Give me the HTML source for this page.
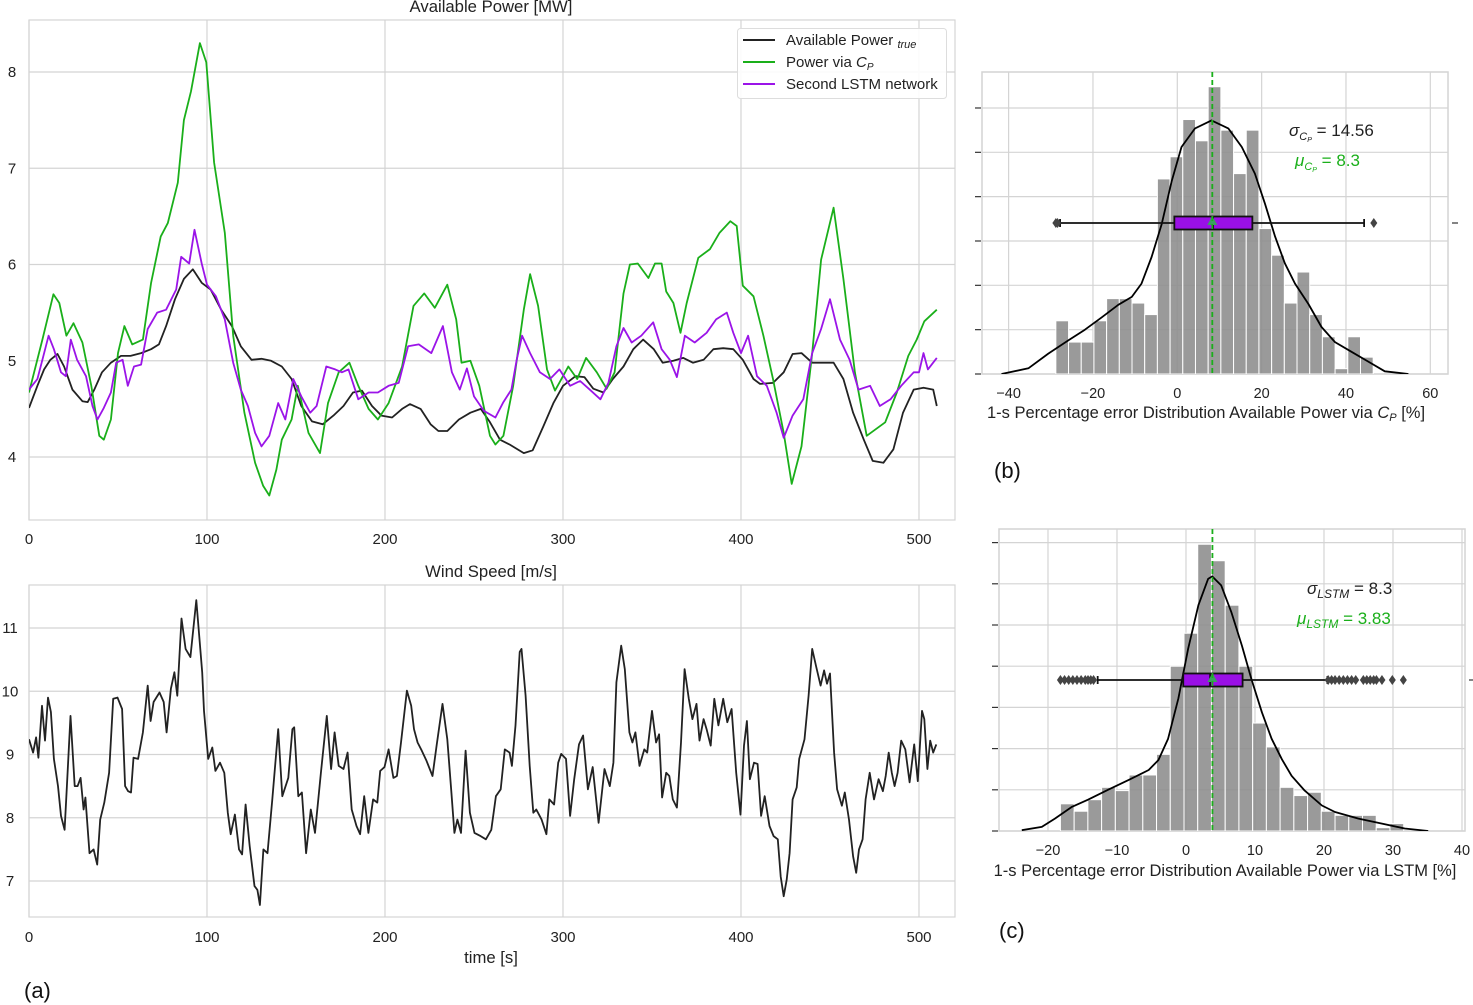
<!DOCTYPE html>
<html><head><meta charset="utf-8"><style>
html,body{margin:0;padding:0;background:#fff;}
svg{display:block;font-family:"Liberation Sans",sans-serif;}
</style></head><body>
<svg id="fig" width="1473" height="1005" viewBox="0 0 1473 1005" xmlns="http://www.w3.org/2000/svg">
<defs>
<clipPath id="clipA"><rect x="29" y="20" width="926" height="500"/></clipPath>
<clipPath id="clipW"><rect x="29" y="585" width="926" height="332"/></clipPath>
<clipPath id="clipB"><rect x="982" y="72" width="466" height="302"/></clipPath>
<clipPath id="clipC"><rect x="999" y="529" width="466" height="302"/></clipPath>
</defs>
<g id="power-panel"></g>
<g id="wind-panel"></g>
<g id="hist-b"></g>
<g id="hist-c"></g>
<text x="491" y="12" font-size="16.7" text-anchor="middle" fill="#222">Available Power [MW]</text>
<text x="491" y="577" font-size="16.7" text-anchor="middle" fill="#222">Wind Speed [m/s]</text>
<text x="491" y="963" font-size="16.7" text-anchor="middle" fill="#222">time [s]</text>
<text x="24" y="998" font-size="22" fill="#111">(a)</text>
<text x="994" y="478" font-size="22" fill="#111">(b)</text>
<text x="999" y="938" font-size="22" fill="#111">(c)</text>
<text x="1206" y="418" font-size="16.5" text-anchor="middle" fill="#222">1-s Percentage error Distribution Available Power via <tspan font-style="italic">C</tspan><tspan font-style="italic" font-size="11" dy="3">P</tspan><tspan dy="-3"> [%]</tspan></text>
<text x="1225" y="876" font-size="16.5" text-anchor="middle" fill="#222">1-s Percentage error Distribution Available Power via LSTM [%]</text>
<text x="1289" y="136" font-size="17" fill="#222"><tspan font-style="italic">σ</tspan><tspan font-style="italic" font-size="11" dy="4">C</tspan><tspan font-style="italic" font-size="7" dy="2">P</tspan><tspan dy="-6"> = 14.56</tspan></text>
<text x="1295" y="166" font-size="17" fill="#1aaf1a"><tspan font-style="italic">μ</tspan><tspan font-style="italic" font-size="11" dy="4">C</tspan><tspan font-style="italic" font-size="7" dy="2">P</tspan><tspan dy="-6"> = 8.3</tspan></text>
<text x="1307" y="594" font-size="17" fill="#222"><tspan font-style="italic">σ</tspan><tspan font-style="italic" font-size="12" dy="4">LSTM</tspan><tspan dy="-4"> = 8.3</tspan></text>
<text x="1297" y="624" font-size="17" fill="#1aaf1a"><tspan font-style="italic">μ</tspan><tspan font-style="italic" font-size="12" dy="4">LSTM</tspan><tspan dy="-4"> = 3.83</tspan></text>
<g>
<rect x="737.5" y="28.5" width="209" height="70" rx="3" fill="#fff" fill-opacity="0.9" stroke="#ddd"/>
<line x1="743" y1="40" x2="775" y2="40" stroke="#222" stroke-width="2"/>
<text x="786" y="45" font-size="15" fill="#222">Available Power <tspan font-style="italic" font-size="11" dy="3">true</tspan></text>
<line x1="743" y1="62" x2="775" y2="62" stroke="#1aaf1a" stroke-width="2"/>
<text x="786" y="67" font-size="15" fill="#222">Power via <tspan font-style="italic">C</tspan><tspan font-style="italic" font-size="10" dy="3">P</tspan></text>
<line x1="743" y1="84" x2="775" y2="84" stroke="#9b14e8" stroke-width="2"/>
<text x="786" y="89" font-size="15" fill="#222">Second LSTM network</text>
</g>
</svg>
<script>
// ---------- data: power panel ----------
const tTrue=[0,4.7,8.5,12,16,19.7,24.4,30,33,36.7,41,46,51.7,57,63,68.6,73,77,82,87,92,97,102,108,114,119,125,130.6,136,142,147.5,153,159,165,171,176.7,182,187,192.7,198,204,209.6,214,220,225.6,230,235,241.5,248,253.8,259,264.6,270,278,283,289,294.6,300,307,312,317,322.7,328,334,339.5,345,351,356,362,367.6,373,379,384.5,390,395.7,401,407,410.7,418,424,429,434,440,446,452,457.5,463,469,474,480,485.6,491,497,502.5,508,510];
const pTrue=[4.51,4.74,4.91,5.01,5.07,4.94,4.7,4.58,4.57,4.7,4.88,4.98,5.05,5.05,5.08,5.12,5.17,5.36,5.64,5.85,5.95,5.81,5.74,5.53,5.36,5.15,5.01,5.02,5.0,4.94,4.81,4.53,4.37,4.34,4.43,4.53,4.67,4.69,4.53,4.43,4.41,4.5,4.55,4.5,4.34,4.27,4.27,4.39,4.46,4.5,4.36,4.18,4.13,4.04,4.07,4.32,4.56,4.74,4.84,4.83,4.71,4.67,4.81,4.94,5.12,5.22,5.12,4.98,5.0,5.03,4.98,5.01,5.12,5.13,5.12,5.01,4.81,4.76,4.77,4.88,5.07,5.08,4.98,4.98,4.98,4.81,4.46,4.18,3.96,3.94,4.08,4.46,4.7,4.72,4.7,4.53];
const tCp=[0,7.5,13.7,17,21,25,30,35,39.5,42,46,50,53.6,58,64,68.6,74,78,83.6,87,91,96,99.6,104,110,114.7,121,127,131.6,135,139,142,147.5,151,157,163.5,168,174,180,185,190.8,196,202,209.6,216,222,228,235,240,243,248,253,259,262,266.5,272,278,281.5,286,291,295.5,300,303,308,313,319,324.5,329,334,337.6,342,348,351.7,355.4,358,362,366,369.5,376,382.6,388,394,397.6,401,407,412.6,418,424,428.5,434,440,445,452,457.5,464,470.6,481,487.5,494,498.7,503,510];
const pCp=[4.67,5.22,5.69,5.6,5.26,5.39,5.19,4.74,4.22,4.18,4.39,5.08,5.36,5.17,5.22,5.81,6.29,6.43,6.85,7.5,7.8,8.3,8.1,7.06,6.33,5.26,4.46,3.94,3.7,3.6,3.87,4.18,4.39,4.74,4.25,4.04,4.56,4.88,4.98,4.74,4.5,4.39,4.56,4.94,5.57,5.7,5.55,5.79,5.43,4.98,5.0,4.74,4.22,4.13,4.22,4.74,5.53,5.9,5.57,4.91,4.69,4.84,4.94,4.81,5.03,4.88,4.71,4.88,5.7,6.0,6.01,5.86,6.01,6.01,5.72,5.6,5.29,5.6,6.07,6.16,6.33,6.45,6.4,5.78,5.67,5.26,4.81,4.25,3.72,4.11,5.08,6.05,6.59,5.85,4.88,4.22,4.36,4.67,5.05,5.22,5.41,5.53];
const tLstm=[0,4.7,7.5,11,14,18,20.7,23.5,27,32,35.7,38.5,42,46,49,52.6,55.5,59,63,66.7,72,77,82.7,85.5,90,93,97,100,105,110,114.7,119,123,127,130.6,135,140,144,148.5,153,158,161.6,167,172,175.8,179.5,185,190.8,196,202,207.7,213,219,226,232.5,237.6,242,246,250,255.5,262,266.5,271,274,277,281.5,287,292.7,298,304,309.6,315,321,325.5,330,334,338.6,344,350.7,355.4,360,364,368.5,374,380.7,386,392,395.7,400,404,409,414.5,420,424,429,435,440,445,450,455.6,461,466,472.5,478,484,490,497,500,502.5,505,510];
const pLstm=[4.7,4.81,5.01,5.26,5.12,4.88,4.84,5.22,5.01,4.84,4.53,4.39,4.51,4.67,4.98,5.01,4.74,4.94,4.96,5.33,5.5,5.53,5.74,6.08,6.01,6.36,6.01,5.79,5.67,5.43,4.98,4.7,4.53,4.25,4.11,4.22,4.56,4.39,4.81,4.63,4.46,4.53,4.94,4.91,4.88,4.91,4.6,4.67,4.67,4.74,4.77,5.15,5.17,5.08,5.36,4.88,4.7,4.92,4.63,4.48,4.41,4.57,4.7,5.01,5.26,5.08,4.88,4.81,4.91,4.74,4.79,4.7,4.6,4.77,5.15,5.34,5.19,5.26,5.4,5.12,5.01,4.83,5.26,5.19,5.29,5.43,5.5,5.29,5.08,5.26,4.84,4.74,4.46,4.2,4.43,4.6,5.08,5.33,5.64,5.22,5.01,4.7,4.74,4.53,4.6,4.74,4.88,4.88,5.08,4.91,5.03];
const powerYTicks=[4,5,6,7,8];
const timeTicks=[0,100,200,300,400,500];
// ---------- data: wind panel ----------
const tWind=[0,2.3,4,5.3,7.3,9,10.7,12.3,14,16.3,18,20,21.3,23.3,25.7,27.3,29,30.7,31.7,34,36.3,38.3,40,42.3,45,47.3,49.7,52.3,54,55.7,57.3,58.7,61.3,64,66.7,68.3,70,73.3,75.7,77.3,79.7,81.7,83.3,85.7,88,90.7,94,97.3,98.3,100.7,103,104.7,107.3,109.7,111.7,113.3,115.7,118,119.7,121.7,124,126.7,128.3,129.7,131.7,134,136.7,140,142.3,145.7,148,149,151.3,153.3,155.7,158.3,160.7,164,167.3,169.7,171.7,174,176.7,179,181.3,184,186,188.3,190.7,193.3,195.7,197.3,199.7,202,204.7,206.7,209,212.3,214.7,216.3,218.3,220.7,223.3,226.7,229,232.3,235,237.3,239,240.7,242.7,245.3,247.7,250.3,253.7,256.7,259.7,262.3,265,267.3,270,271.3,273.3,275.7,276.7,279,281.3,283.3,285,288,290.7,292.3,295,297.3,299,301.7,304,306.3,309,311.3,314,316.7,320,323.3,326.3,328.3,330,332.7,334.7,337.3,339,340.7,343,345.7,347.3,350,352.3,354,355.7,358,359.7,361.7,364,366.3,368.3,370.7,372.7,375,376.7,379,380.7,383,385,387.3,390,392.3,394.7,397.3,399.7,401.7,403.3,405,407.3,409.3,411.3,413.3,416,418.3,420.7,422.3,424,425.7,427.3,429,431.3,432.7,435.7,438,440,442.3,444.7,446.7,448.3,450,452.3,454,456.7,458.3,460.7,463,464.7,466.3,468.3,470,472.3,474.7,477.3,479.7,481.3,483,484.7,486.3,488,490,492.3,494.7,497.3,499.3,501.7,503,504.7,506.3,508,509.7];
const vWind=[9.24,9.03,9.27,8.95,9.77,9.22,9.9,9.67,8.93,8.5,8.03,7.81,8.5,9.61,8.5,8.5,8.63,8.13,8.32,7.44,7.5,7.26,7.97,8.24,8.71,9.88,9.9,9.72,8.5,8.42,8.4,8.95,8.93,9.35,10.09,9.53,9.83,9.98,9.83,9.35,10.04,10.3,9.93,11.15,10.67,10.54,11.44,10.3,9.69,8.93,9.11,8.74,8.87,8.71,8.08,7.74,8.05,7.5,7.42,8.21,7.55,6.92,6.86,6.62,7.5,7.44,8.29,9.4,8.34,8.63,9.4,9.43,8.34,8.4,7.44,8.13,7.76,8.71,9.61,8.77,9.35,8.82,8.77,9.03,8.13,7.87,7.74,8.34,7.76,8.29,8.24,8.74,8.8,9.08,8.63,8.66,9.19,10.01,9.77,9.4,9.19,9.06,8.9,8.66,9.14,9.8,9.24,8.4,7.76,7.97,7.76,9.06,8.08,7.76,7.71,7.66,7.81,8.34,8.45,9.08,9.03,8.82,9.46,10.62,10.67,9.93,8.82,8.08,8.13,7.97,7.74,8.29,8.21,8.87,9.01,8.93,8.03,8.61,9.16,9.3,8.45,8.8,7.92,8.77,8.5,8.87,10.14,10.72,10.35,9.35,9.19,9.35,8.82,9.08,9.03,9.69,9.19,9.32,8.32,8.71,8.66,8.29,8.16,9.19,10.35,9.88,9.56,9.8,9.22,9.56,9.4,9.14,9.88,9.46,9.88,9.51,9.72,8.71,8.05,9.14,9.53,8.61,8.87,8.85,8.03,8.34,7.87,7.71,7.66,7.07,6.76,7.02,7.44,8.29,8.48,8.93,9.24,9.93,10.67,10.38,10.09,10.33,10.12,10.28,9.03,8.45,8.19,8.4,7.97,7.39,7.13,7.5,7.66,8.29,8.71,8.29,8.61,8.42,8.66,9.03,8.71,8.5,8.71,9.22,9.08,8.56,9.16,8.58,9.69,9.56,8.77,9.22,9.03,9.16];
const windYTicks=[7,8,9,10,11];
// ---------- data: histogram (b) Cp ----------
const cpBinStart=-28.8, cpBinWidth=3.01;
const cpCounts=[6,3.6,3.6,6,8.5,8.5,8,6.7,22,24.5,28.7,26.3,32.4,27.5,22.6,27.5,16.4,13.4,8,11.5,6.7,4.2,0.6,4.2,1.9];
const cpKdeX=[-41.7,-35.3,-30.6,-25.8,-21.9,-17.9,-14,-10.8,-8.5,-6.1,-3.7,-1.3,1.0,4.2,8.1,12.1,15.3,18.4,20.8,23.2,25.5,27.9,31.1,34.2,37.4,41.3,45.3,49.2,54.8];
const cpKdeY=[0,0.64,2.3,3.8,5.0,6.4,7.8,8.7,10.2,13.2,16.9,21.8,25.6,27.7,28.6,27.7,25.6,22.6,19.2,15.5,12.5,10.2,7.9,5.3,3.6,2.5,1.4,0.3,0];
const cpBox=[-27.8,-0.7,8.5,17.8,44.3]; // whisker-lo, q1, median, q3, whisker-hi
const cpMean=8.3;
const cpFliers=[-28.8,-28.4,46.6];
const cpXTicks=[-40,-20,0,20,40,60];
// ---------- data: histogram (c) LSTM ----------
const lsBinStart=-18.2, lsBinWidth=1.99;
const lsCounts=[3.3,2.4,3.8,5.3,4.9,6.8,6.8,9.3,20,24,34.8,32.8,27.4,20,13.1,10.2,5.3,4.3,4.7,2.4,1.9,1.9,1.9,0.4,0.9];
const lsKdeX=[-23.8,-20.9,-19,-16.6,-14.2,-11.3,-8.3,-5.4,-4.0,-2.6,-1.1,0.3,1.8,3.2,3.8,5.1,6.6,8.1,9.5,11,12.4,13.9,15.3,17.2,19.7,21.6,25,28.4,31.7,35.1];
const lsKdeY=[0.1,0.5,1.5,2.9,3.8,5.0,6.2,7.4,8.6,11.2,16.1,22.1,27.4,30.6,30.9,29.8,26.5,22.5,18.4,14.4,11.2,8.7,6.7,4.9,3.1,2.3,1.5,0.9,0.3,0];
const lsBox=[-12.8,-0.4,3.5,8.2,20.5];
const lsMean=3.83;
const lsFliers=[-18.2,-17.6,-17.0,-16.4,-15.8,-15.2,-14.6,-14.2,-13.8,-13.4,20.6,21.1,21.6,22.2,22.8,23.4,24.0,24.6,25.7,26.2,26.7,27.2,27.6,28.4,29.9,31.5];
const lsXTicks=[-20,-10,0,10,20,30,40];

const NS='http://www.w3.org/2000/svg';
function mk(tag,attrs,parent){const e=document.createElementNS(NS,tag);for(const k in attrs)e.setAttribute(k,attrs[k]);parent.appendChild(e);return e;}
const GRID='#d4d4d4';

// ---------- power panel ----------
(function(){
  const g=document.getElementById('power-panel');
  const X=t=>29+t*1.78, Y=v=>72+(8-v)*96.25;
  const bg=mk('rect',{x:29,y:20,width:926,height:500,fill:'#fff',stroke:GRID,'stroke-width':1.2},g);
  
  powerYTicks.forEach(v=>{
    const l=mk('line',{x1:29,x2:955,y1:Y(v),y2:Y(v),stroke:GRID,'stroke-width':1.2},g);
    
    const t=mk('text',{x:12,y:Y(v)+5,'font-size':15,'text-anchor':'middle',fill:'#222'},g);t.textContent=v;
    
  });
  timeTicks.forEach(v=>{
    const l=mk('line',{x1:X(v),x2:X(v),y1:20,y2:520,stroke:GRID,'stroke-width':1.2},g);
    
    const t=mk('text',{x:X(v),y:544,'font-size':15,'text-anchor':'middle',fill:'#222'},g);t.textContent=v;
    
  });
  const cg=mk('g',{'clip-path':'url(#clipA)'},g);
  [[tTrue,pTrue,'#222','true-power-line'],[tCp,pCp,'#1aaf1a','cp-power-line'],[tLstm,pLstm,'#9b14e8','lstm-power-line']].forEach(s=>{
    const d=s[0].map((t,i)=>(i?'L':'M')+X(t).toFixed(1)+','+Y(s[1][i]).toFixed(1)).join('');
    const p=mk('path',{d:d,fill:'none',stroke:s[2],'stroke-width':1.8,'stroke-linejoin':'round'},cg);
    
  });
})();

// ---------- wind panel ----------
(function(){
  const g=document.getElementById('wind-panel');
  const X=t=>29+t*1.78, Y=v=>628+(11-v)*63.25;
  const bg=mk('rect',{x:29,y:585,width:926,height:332,fill:'#fff',stroke:GRID,'stroke-width':1.2},g);
  
  windYTicks.forEach(v=>{
    const l=mk('line',{x1:29,x2:955,y1:Y(v),y2:Y(v),stroke:GRID,'stroke-width':1.2},g);
    
    const t=mk('text',{x:10,y:Y(v)+5,'font-size':15,'text-anchor':'middle',fill:'#222'},g);t.textContent=v;
    
  });
  timeTicks.forEach(v=>{
    const l=mk('line',{x1:X(v),x2:X(v),y1:585,y2:917,stroke:GRID,'stroke-width':1.2},g);
    
    const t=mk('text',{x:X(v),y:942,'font-size':15,'text-anchor':'middle',fill:'#222'},g);t.textContent=v;
    
  });
  const cg=mk('g',{'clip-path':'url(#clipW)'},g);
  const d=tWind.map((t,i)=>(i?'L':'M')+X(t).toFixed(1)+','+Y(vWind[i]).toFixed(1)).join('');
  const p=mk('path',{d:d,fill:'none',stroke:'#222','stroke-width':1.8,'stroke-linejoin':'round'},cg);
  
})();

// ---------- histograms ----------
function hist(cfg){
  const g=document.getElementById(cfg.id);
  const X=v=>cfg.x0+v*cfg.sx, Y=c=>cfg.bottom-c*cfg.sy;
  const bg=mk('rect',{x:cfg.left,y:cfg.top,width:cfg.right-cfg.left,height:cfg.bottom-cfg.top,fill:'#fff',stroke:GRID,'stroke-width':1.5},g);
  
  for(let c=0;Y(c)>=cfg.top-1;c+=5){
    const l=mk('line',{x1:cfg.left,x2:cfg.right,y1:Y(c),y2:Y(c),stroke:GRID,'stroke-width':1.2},g);
    
    if(Y(c)>cfg.top+2){const tk=mk('line',{x1:cfg.left-7,x2:cfg.left-1,y1:Y(c),y2:Y(c),stroke:'#333','stroke-width':1.2},g);
    }
  }
  cfg.ticks.forEach(v=>{
    if(X(v)>cfg.left&&X(v)<cfg.right){const l=mk('line',{x1:X(v),x2:X(v),y1:cfg.top,y2:cfg.bottom,stroke:GRID,'stroke-width':1.2},g);
    }
    const t=mk('text',{x:X(v),y:cfg.bottom+24,'font-size':14.5,'text-anchor':'middle',fill:'#222'},g);t.textContent=(v<0?'\u2212'+(-v):v);
    
  });
  const cg=mk('g',{'clip-path':cfg.clip},g);
  cfg.counts.forEach((c,i)=>{
    const a=cfg.b0+i*cfg.bw;
    const r=mk('rect',{x:X(a),y:Y(c),width:cfg.bw*cfg.sx,height:c*cfg.sy,fill:'#8c8c8c','fill-opacity':0.88,stroke:'#fff','stroke-width':1},cg);
    
  });
  const kd=cfg.kx.map((x,i)=>(i?'L':'M')+X(x).toFixed(1)+','+Y(cfg.ky[i]).toFixed(1)).join('');
  const k=mk('path',{d:kd,fill:'none',stroke:'#000','stroke-width':1.8,'stroke-linejoin':'round'},cg);
  
  const by=cfg.boxY,b=cfg.box;
  const wl=mk('line',{x1:X(b[0]),x2:X(b[4]),y1:by,y2:by,stroke:'#111','stroke-width':1.8},g);
  
  [b[0],b[4]].forEach(v=>{const c=mk('line',{x1:X(v),x2:X(v),y1:by-4,y2:by+4,stroke:'#111','stroke-width':1.8},g);
    });
  const bx=mk('rect',{x:X(b[1]),y:by-6.5,width:(b[3]-b[1])*cfg.sx,height:13,fill:'#9a10e6',stroke:'#111','stroke-width':1.8},g);
  
  const md=mk('line',{x1:X(b[2]),x2:X(b[2]),y1:by-6.5,y2:by+6.5,stroke:'#111','stroke-width':1.8},g);
  
  cfg.fliers.forEach(v=>{const f=mk('path',{d:`M${X(v)},${by-5}L${X(v)+3.5},${by}L${X(v)},${by+5}L${X(v)-3.5},${by}Z`,fill:'#444'},g);
    });
  const mx=X(cfg.mean);
  const tri=mk('path',{d:`M${mx},${by-7}L${mx+5},${by+2}L${mx-5},${by+2}Z`,fill:'#3aa060'},g);
  
  const ml=mk('line',{x1:mx,x2:mx,y1:cfg.top,y2:cfg.bottom,stroke:'#1aaf1a','stroke-width':1.8,'stroke-dasharray':'5,3'},g);
  
  const rt=mk('line',{x1:cfg.right+4,x2:cfg.right+10,y1:by,y2:by,stroke:'#333','stroke-width':1.2},g);
  
}
hist({id:'hist-b',pre:'cp',x0:1177.3,sx:4.217,bottom:374,sy:8.867,left:982,right:1448,top:72,clip:'url(#clipB)',
  ticks:cpXTicks,counts:cpCounts,b0:cpBinStart,bw:cpBinWidth,kx:cpKdeX,ky:cpKdeY,box:cpBox,boxY:223,fliers:cpFliers,mean:cpMean});
hist({id:'hist-c',pre:'lstm',x0:1186,sx:6.9,bottom:831,sy:8.24,left:999,right:1465,top:529,clip:'url(#clipC)',
  ticks:lsXTicks,counts:lsCounts,b0:lsBinStart,bw:lsBinWidth,kx:lsKdeX,ky:lsKdeY,box:lsBox,boxY:680,fliers:lsFliers,mean:lsMean});
</script>
</body></html>
